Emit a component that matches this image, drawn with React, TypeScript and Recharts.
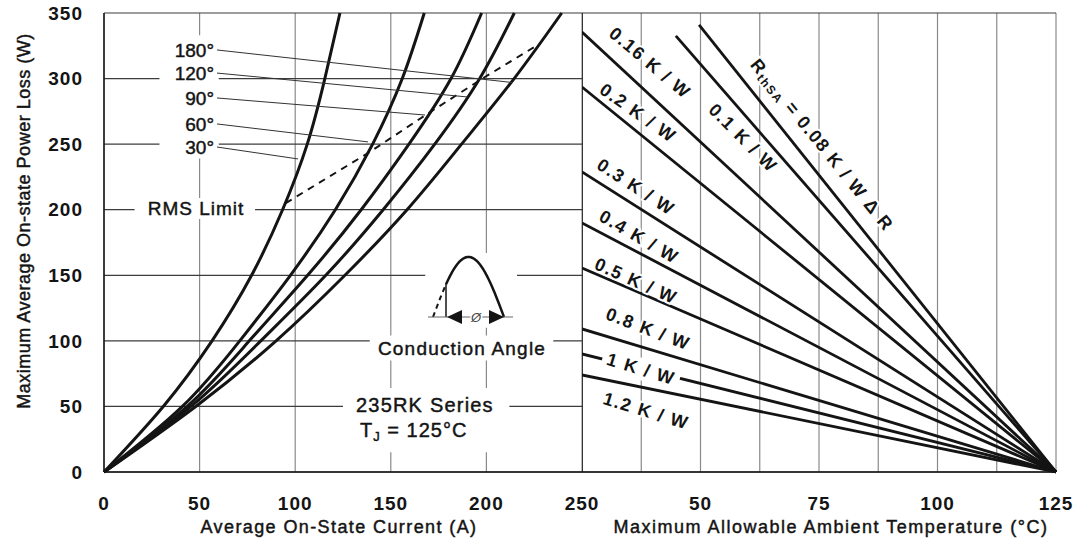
import {
  CartesianGrid,
  Line,
  LineChart,
  ReferenceArea,
  ReferenceLine,
  XAxis,
  YAxis,
} from 'recharts';

// left panel: power loss vs average current, one curve per conduction angle
const powerSteps = [0, 50, 100, 150, 200, 250, 300, 350];
const angleLabels = ['180°', '120°', '90°', '60°', '30°'];
const currentAt180 = [0, 48, 90, 126, 158.5, 187, 214.5, 239.4];
const currentAt120 = [0, 45.5, 82, 116, 146, 173, 196.5, 214.6];
const currentAt90 = [0, 43.5, 76, 106.5, 134.5, 159.5, 181.5, 197.5];
const currentAt60 = [0, 41, 71, 97.5, 121, 140.5, 156, 167.5];
const currentAt30 = [0, 31, 56.5, 77.2, 93.4, 106.3, 115.5, 123.4];

const rmsLimitCurrent = [95, 139, 169, 199, 225];
const rmsLimitPower = [205, 244, 273, 301, 324];

// leader lines from each angle label to its curve
const leaderFromCurrent = 59.1;
const leaderFromPower = [321.8, 304.2, 285.2, 265.4, 247.8];
const leaderToCurrent = [213.5, 189.9, 167.9, 138.1, 101.5];
const leaderToPower = [297, 286, 272.2, 251.7, 238.7];

const currentTicks = [0, 50, 100, 150, 200, 250];
const powerTicks = [0, 50, 100, 150, 200, 250, 300, 350];

// right panel: power loss vs ambient temperature, one line per heatsink resistance
const sinkLabels = ['0.08', '0.1', '0.16', '0.2', '0.3', '0.4', '0.5', '0.8', '1', '1.2'];
const sinkStartTemp = [49.7, 44.8, 25, 25, 25, 25, 25, 25, 25, 25];
const sinkStartPower = [340.9, 332.5, 335.5, 293.6, 228.8, 189.9, 155.6, 109.1, 90, 74];
const junctionTemp = 125;
const tempGrid = [25, 37.5, 50, 62.5, 75, 87.5, 100, 112.5, 125];
const tempTickLabels = [50, 75, 100, 125];

const FONT = '"Liberation Sans", Arial, Helvetica, sans-serif';
const INK = '#141414';

const tickStyle = { fill: INK, fontSize: 19, fontWeight: 700, fontFamily: FONT, letterSpacing: 1 };
// datasheet text is a little heavier than a plain regular face
const heavy = { stroke: INK, strokeWidth: 0.45 };

const angleCurves = [currentAt180, currentAt120, currentAt90, currentAt60, currentAt30];

const toCurve = (currents: number[]) => powerSteps.map((p, k) => ({ i: currents[k], p }));
const rmsLimit = rmsLimitCurrent.map((i, k) => ({ i, p: rmsLimitPower[k] }));

// white boxes behind the annotations (they cut the grid like in the datasheet)
const labelBoxes = [
  { x1: 29, x2: 60, y1: 239, y2: 333 },
  { x1: 16, x2: 79, y1: 193, y2: 209 },
  { x1: 168, x2: 216, y1: 110, y2: 167 },
  { x1: 139, x2: 235, y1: 85, y2: 104 },
  { x1: 125, x2: 212, y1: 15, y2: 64 },
];

// rotated labels on the right panel: centre and angle
const sinkLabelPlace = [
  { x: 822, y: 145, a: 51 },
  { x: 743, y: 138, a: 45 },
  { x: 650, y: 63, a: 40 },
  { x: 638, y: 113, a: 35 },
  { x: 636, y: 187, a: 33 },
  { x: 639, y: 237, a: 30 },
  { x: 636, y: 281, a: 24 },
  { x: 648, y: 329, a: 21 },
  { x: 641, y: 369, a: 17 },
  { x: 646, y: 411, a: 17 },
];

function LeftChart() {
  return (
    <LineChart width={600} height={546} margin={{ top: 13, right: 18, bottom: 0, left: 0 }}>
      <CartesianGrid horizontal={false} stroke="#8a8a8a" strokeWidth={1.2} />
      <CartesianGrid vertical={false} stroke="#3c3c3c" strokeWidth={1.2} />
      {labelBoxes.map((b, k) => (
        <ReferenceArea key={k} {...b} fill="#ffffff" fillOpacity={1} stroke="none" />
      ))}
      <XAxis
        type="number"
        dataKey="i"
        domain={[0, 250]}
        ticks={currentTicks}
        interval={0}
        height={74}
        tickSize={0}
        tickMargin={25}
        tick={tickStyle}
        axisLine={{ stroke: INK, strokeWidth: 1.5 }}
      />
      <YAxis
        type="number"
        domain={[0, 350]}
        ticks={powerTicks}
        interval={0}
        width={104}
        tickSize={0}
        tickMargin={21}
        tick={tickStyle}
        axisLine={{ stroke: INK, strokeWidth: 1.5 }}
      />
      {angleCurves.map((c, k) => (
        <Line
          key={angleLabels[k]}
          data={toCurve(c)}
          dataKey="p"
          type="natural"
          stroke={INK}
          strokeWidth={3}
          dot={false}
          isAnimationActive={false}
        />
      ))}
      <Line
        data={rmsLimit}
        dataKey="p"
        type="linear"
        stroke={INK}
        strokeWidth={2}
        strokeDasharray="7 6"
        dot={false}
        isAnimationActive={false}
      />
      {angleLabels.map((name, k) => (
        <Line
          key={'leader' + name}
          data={[
            { i: leaderFromCurrent, p: leaderFromPower[k] },
            { i: leaderToCurrent[k], p: leaderToPower[k] },
          ]}
          dataKey="p"
          type="linear"
          stroke="#333"
          strokeWidth={1}
          dot={false}
          isAnimationActive={false}
        />
      ))}
    </LineChart>
  );
}

function RightChart() {
  return (
    <LineChart width={494} height={546} margin={{ top: 13, right: 20, bottom: 0, left: 0 }}>
      <CartesianGrid horizontal={false} stroke="#8a8a8a" strokeWidth={1.2} />
      <CartesianGrid vertical={false} stroke="#3c3c3c" strokeWidth={1.2} />
      <XAxis
        type="number"
        dataKey="t"
        domain={[25, 125]}
        ticks={tempGrid}
        interval={0}
        tickFormatter={(v: number) => (tempTickLabels.includes(v) ? String(v) : '')}
        height={74}
        tickSize={0}
        tickMargin={25}
        tick={tickStyle}
        axisLine={{ stroke: INK, strokeWidth: 1.5 }}
      />
      <YAxis
        type="number"
        domain={[0, 350]}
        ticks={powerTicks}
        width={0}
        tick={false}
        tickLine={false}
        axisLine={false}
      />
      <ReferenceLine x={25} stroke={INK} strokeWidth={1.5} />
      {sinkLabels.map((name, k) => (
        <Line
          key={name}
          data={[
            { t: sinkStartTemp[k], p: sinkStartPower[k] },
            { t: junctionTemp, p: 0 },
          ]}
          dataKey="p"
          type="linear"
          stroke={INK}
          strokeWidth={2.8}
          dot={false}
          isAnimationActive={false}
        />
      ))}
    </LineChart>
  );
}

function ConductionIcon() {
  const pts: string[] = [];
  const dash: string[] = [];
  for (let a = 0; a <= 180; a += 3) {
    const x = 433 + (a / 180) * 71;
    const y = 317 - 60 * Math.sin((a * Math.PI) / 180);
    if (a <= 33) dash.push(`${x},${y}`);
    if (a >= 33) pts.push(`${x},${y}`);
  }
  return (
    <g>
      <polyline points={dash.join(' ')} fill="none" stroke={INK} strokeWidth={2} strokeDasharray="5 4" />
      <polyline points={pts.join(' ')} fill="none" stroke={INK} strokeWidth={2.5} />
      <line x1={446} y1={284} x2={446} y2={317} stroke={INK} strokeWidth={1.5} />
      <line x1={428} y1={317} x2={513} y2={317} stroke="#666" strokeWidth={1} />
      <polygon points="447,317 462,310 462,324" fill={INK} />
      <polygon points="504,317 489,310 489,324" fill={INK} />
      <text x={476} y={317} fontSize={13} fontStyle="italic" fill="#444" textAnchor="middle" dominantBaseline="central" stroke="#fff" strokeWidth={3} paintOrder="stroke">
        Ø
      </text>
    </g>
  );
}

function Annotations() {
  const angleY = [50, 73, 98, 124, 147];
  return (
    <svg
      width={1076}
      height={546}
      style={{ position: 'absolute', left: 0, top: 0, pointerEvents: 'none' }}
      fontFamily={FONT}
      fill={INK}
    >
      {angleLabels.map((name, k) => (
        <text key={name} x={214} y={angleY[k]} fontSize={19} textAnchor="end" dominantBaseline="central" {...heavy}>
          {name}
        </text>
      ))}
      <text x={196} y={208} fontSize={19} letterSpacing={1} textAnchor="middle" dominantBaseline="central" {...heavy}>
        RMS Limit
      </text>
      <ConductionIcon />
      <text x={462} y={348} fontSize={19} letterSpacing={1.2} textAnchor="middle" dominantBaseline="central" {...heavy}>
        Conduction Angle
      </text>
      <text x={356} y={405} fontSize={20} letterSpacing={1.2} dominantBaseline="central" {...heavy}>
        235RK Series
      </text>
      <text x={360} y={430} fontSize={20} letterSpacing={1} dominantBaseline="central" {...heavy}>
        T
        <tspan fontSize={13} dy={6}>J</tspan>
        <tspan dy={-6}> = 125°C</tspan>
      </text>

      {sinkLabels.map((name, k) => {
        const s = sinkLabelPlace[k];
        return (
          <g key={name} transform={`translate(${s.x},${s.y}) rotate(${s.a})`}>
            {name === '1' && <rect x={-40} y={-11} width={80} height={22} fill="#fff" />}
            <text
              fontSize={18}
              fontWeight={700}
              letterSpacing={1.5}
              textAnchor="middle"
              dominantBaseline="central"
              stroke="#fff"
              strokeWidth={4}
              paintOrder="stroke"
            >
              {k === 0 ? (
                <>
                  R<tspan fontSize={12} dy={5}>thSA</tspan>
                  <tspan dy={-5}>{` = ${name} K / W Δ R`}</tspan>
                </>
              ) : (
                `${name} K / W`
              )}
            </text>
          </g>
        );
      })}

      <text
        transform="translate(24,221) rotate(-90)"
        fontSize={18}
        letterSpacing={0.5}
        textAnchor="middle"
        dominantBaseline="central"
        {...heavy}
      >
        Maximum Average On-state Power Loss (W)
      </text>
      <text x={339} y={527} fontSize={18} letterSpacing={1.4} textAnchor="middle" dominantBaseline="central" {...heavy}>
        Average On-State Current (A)
      </text>
      <text x={831} y={527} fontSize={18} letterSpacing={1.5} textAnchor="middle" dominantBaseline="central" {...heavy}>
        Maximum Allowable Ambient Temperature (°C)
      </text>
    </svg>
  );
}

export default function App() {
  return (
    <div
      style={{
        position: 'absolute',
        left: 0,
        top: 0,
        width: 1076,
        height: 546,
        background: '#fff',
        fontFamily: FONT,
      }}
    >
      <div style={{ position: 'absolute', left: 0, top: 0 }}>
        <LeftChart />
      </div>
      <div style={{ position: 'absolute', left: 582, top: 0 }}>
        <RightChart />
      </div>
      <Annotations />
    </div>
  );
}
